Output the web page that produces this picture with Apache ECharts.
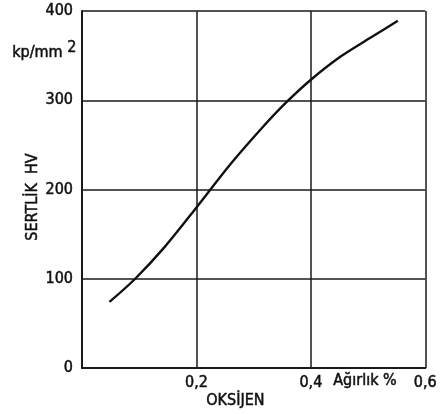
<!DOCTYPE html>
<html><head><meta charset="utf-8">
<script src="https://cdn.jsdelivr.net/npm/echarts@6/dist/echarts.min.js"></script>
<style>html,body{margin:0;padding:0;background:#fff}#c{width:440px;height:414px}</style>
</head><body><div id="c"></div>
<script>
var oxygen = [0.048, 0.093, 0.145, 0.199, 0.259, 0.316, 0.356, 0.400, 0.452, 0.509, 0.552];
var hardness = [74, 100, 136, 179, 228, 270, 297, 323, 349, 372, 389];
var xTickLabels = {"0.2": "0,2", "0.4": "0,4", "0.6": "0,6"};
var yTickLabels = ["0", "100", "200", "300", "400"];
var xTitle = "OKSİJEN";
var xUnit = "Ağırlık %";
var yTitle = "SERTLİK  HV";
var yUnit = "kp/mm";

var FONT = "'DejaVu Sans Condensed', 'Liberation Sans Narrow', 'DejaVu Sans', sans-serif";
var FS = 16;
var COL = '#111';
var BW = 0.5;
var chart = echarts.init(document.getElementById('c'));
chart.setOption({
  animation: false,
  backgroundColor: '#fff',
  textStyle: {fontFamily: FONT},
  grid: {left: 82, right: 7, top: 11, bottom: 46},
  xAxis: {
    type: 'value', min: 0, max: 0.6, interval: 0.2,
    axisLine: {show: true, lineStyle: {color: '#1a1a1a', width: 2}},
    axisTick: {show: false},
    splitLine: {show: true, lineStyle: {color: '#1a1a1a', width: 1.5}},
    axisLabel: {
      color: COL, fontSize: FS, fontFamily: FONT, margin: 7, textBorderColor: COL, textBorderWidth: BW,
      formatter: function (v) { var k = (Math.round(v * 10) / 10).toString(); return xTickLabels[k] || ''; }
    }
  },
  yAxis: {
    type: 'value', min: 0, max: 400, interval: 100,
    axisLine: {show: true, lineStyle: {color: '#1a1a1a', width: 2}},
    axisTick: {show: false},
    splitLine: {show: true, lineStyle: {color: '#1a1a1a', width: 1.5}},
    axisLabel: {
      color: COL, fontSize: FS, fontFamily: FONT, margin: 9, textBorderColor: COL, textBorderWidth: BW,
      formatter: function (v) { return yTickLabels[Math.round(v / 100)]; }
    }
  },
  graphic: [
    {type: 'text', left: 333, top: 373, style: {text: xUnit, fontSize: FS, fontFamily: FONT, fill: COL, stroke: COL, lineWidth: BW}},
    {type: 'text', left: 206, top: 393, style: {text: xTitle, fontSize: FS, fontFamily: FONT, fill: COL, stroke: COL, lineWidth: BW}},
    {type: 'text', left: 12, top: 45, style: {text: yUnit, fontSize: FS, fontFamily: FONT, fill: COL, stroke: COL, lineWidth: BW}},
    {type: 'text', left: 67, top: 40, style: {text: '2', fontSize: FS, fontFamily: FONT, fill: COL, stroke: COL, lineWidth: BW}},
    {type: 'text', x: 33, y: 197, rotation: Math.PI / 2, style: {text: yTitle, fontSize: FS, fontFamily: FONT, fill: COL, stroke: COL, lineWidth: BW, align: 'center', verticalAlign: 'middle'}}
  ],
  series: [{
    type: 'line', smooth: 0.3, symbol: 'none',
    lineStyle: {color: '#111', width: 2.4},
    data: oxygen.map(function (x, i) { return [x, hardness[i]]; })
  }]
});
</script></body></html>
